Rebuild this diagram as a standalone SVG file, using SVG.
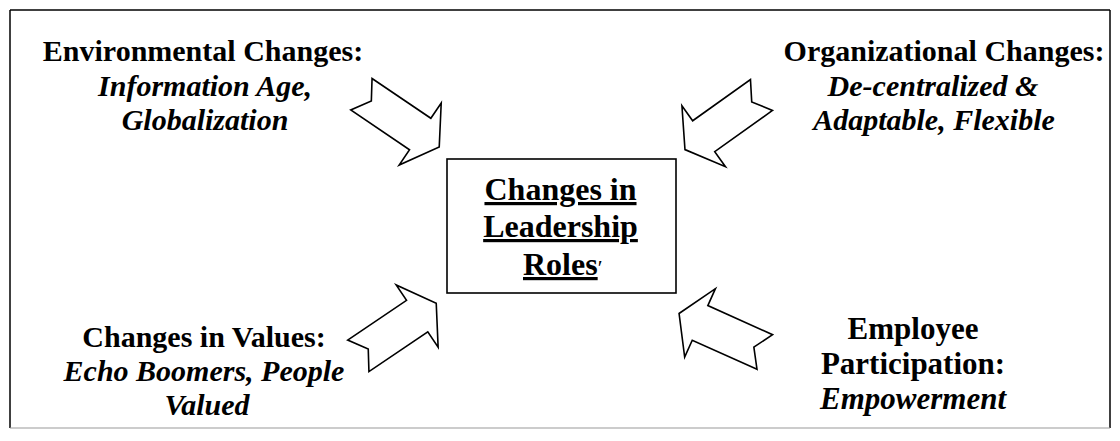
<svg xmlns="http://www.w3.org/2000/svg" width="1120" height="441" viewBox="0 0 1120 441">
<style>
text{font-family:'Liberation Serif','Times New Roman',serif;font-weight:bold;fill:#000;text-anchor:middle}
.it{font-style:italic}
.lbl{font-size:30px}
.lbl2{font-size:31px}
.box{font-size:32px}
.arrow{fill:#fff;stroke:#000;stroke-width:1.6;stroke-linejoin:miter}
.frame{stroke:#000;stroke-width:1.5}
</style>
<defs>
<path id="notched" d="M0,-19 L71,-19 L71,-37.5 L94,0 L71,37.5 L71,19 L0,19 L12,0 Z"/>
</defs>
<g id="frame" fill="none">
<line class="frame" x1="10" y1="10" x2="1110" y2="10"/>
<line class="frame" x1="10" y1="10" x2="10" y2="428"/>
<line class="frame" x1="1110" y1="10" x2="1110" y2="428"/>
<line x1="10" y1="428" x2="1110" y2="428" stroke="#9a9a9a" stroke-width="1.2"/>
</g>
<g id="center">
<rect x="447" y="159" width="229" height="134" fill="#fff" stroke="#000" stroke-width="1.6"/>
<text class="box" x="560.5" y="200" text-decoration="underline">Changes in</text>
<text class="box" x="560.5" y="237" text-decoration="underline">Leadership</text>
<text class="box" x="523" y="275" style="text-anchor:start"><tspan text-decoration="underline">Roles</tspan><tspan font-weight="normal" font-size="22">′</tspan></text>
</g>
<g id="env">
<text class="lbl" x="203" y="61">Environmental Changes:</text>
<text class="lbl it" x="205" y="96">Information Age,</text>
<text class="lbl it" x="205" y="130">Globalization</text>
</g>
<g id="org">
<text class="lbl" x="944" y="61">Organizational Changes:</text>
<text class="lbl it" x="933" y="96">De-centralized &amp;</text>
<text class="lbl it" x="934" y="130">Adaptable, Flexible</text>
</g>
<g id="values">
<text class="lbl" x="204" y="347">Changes in Values:</text>
<text class="lbl it" x="204" y="381">Echo Boomers, People</text>
<text class="lbl it" x="207" y="415">Valued</text>
</g>
<g id="employee">
<text class="lbl2" x="913" y="339">Employee</text>
<text class="lbl2" x="913" y="374">Participation:</text>
<text class="lbl2 it" x="913" y="409">Empowerment</text>
</g>
<g id="connectors">
<use href="#notched" class="arrow" transform="translate(361.4,94.2) rotate(34.1)"/>
<use href="#notched" class="arrow" transform="translate(761.5,95) rotate(144.5)"/>
<use href="#notched" class="arrow" transform="translate(358.3,355.8) rotate(-34)"/>
<use href="#notched" class="arrow" transform="translate(764.8,352) rotate(204.2)"/>
</g>
</svg>
